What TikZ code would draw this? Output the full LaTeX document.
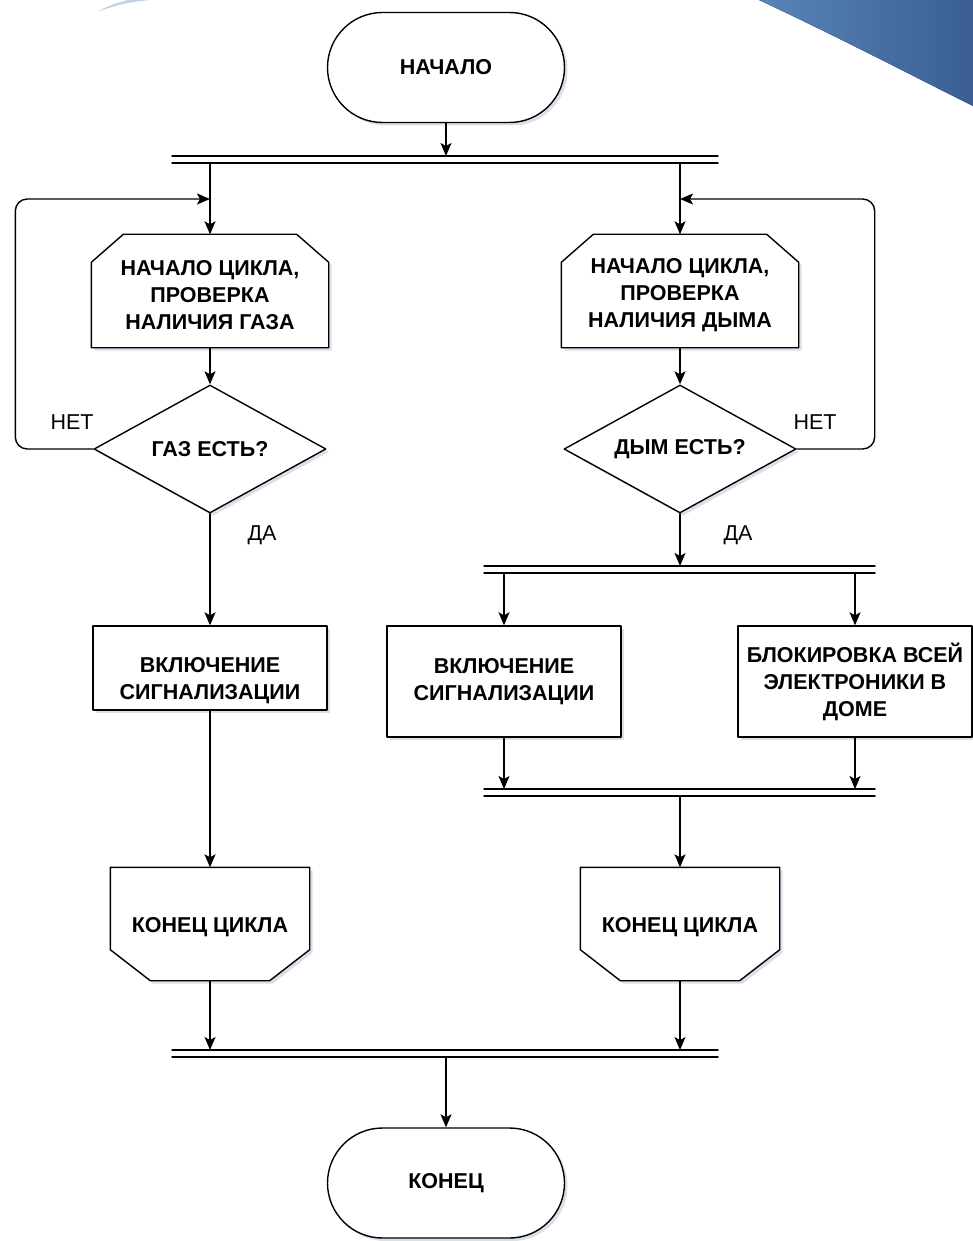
\documentclass[tikz,border=0pt]{standalone}
\usepackage{fontspec}
\setmainfont{Liberation Sans}
\usetikzlibrary{arrows.meta,shapes.geometric,shadows,backgrounds}
\definecolor{swoosh}{HTML}{5985BA}
\definecolor{swooshdark}{HTML}{3A5E93}
\definecolor{swooshlight}{HTML}{C3D3E5}
\definecolor{shade}{HTML}{D9E0EA}

\begin{document}
\begin{tikzpicture}[x=1pt,y=-1pt,line join=round,line cap=round,
    >={Stealth[length=13pt,width=11pt,inset=3pt]},line width=1.4pt]
    \tikzset{every node/.style={font=\fontsize{21.5}{27}\selectfont},
        shd/.style={drop shadow={shadow xshift=3pt,shadow yshift=-3pt,fill=shade,opacity=1}},
        txt/.style={align=center,inner sep=0pt,font=\bfseries\fontsize{21.5}{27}\selectfont},
        box/.style={txt,draw,fill=white,shd},
        term/.style={box,rounded corners=55pt,minimum width=237pt,minimum height=110pt},
        proc/.style={box,minimum width=234pt},
        cond/.style={box,diamond,aspect=1.8,minimum width=232pt,minimum height=128pt},
        loopbox/.style={txt,minimum width=236pt,minimum height=112pt},
        endbox/.style={loopbox,minimum width=198pt},
        outline/.style={draw,fill=white,line width=1.4pt,line join=round,shd}}
    \useasboundingbox (0,0) rectangle (973,1241);
    \fill[left color=swoosh,right color=swooshdark]
        (759,0) .. controls (840,38) and (905,72) .. (973,106) -- (973,0) -- cycle;
    \fill[swooshlight] (99,11) .. controls (110,5) .. (128,0) -- (150,0)
        .. controls (125,3) .. (99,11) -- cycle;

    \node[term] (start) at (446,67.5) {НАЧАЛО};
    \node[loopbox,label={[txt,name=cycAtext,yshift=-4pt]center:НАЧАЛО ЦИКЛА,\\ПРОВЕРКА\\НАЛИЧИЯ ГАЗА}] (cycA) at (210,291) {};
    \node[loopbox,label={[txt,name=cycBtext,yshift=-4pt]center:НАЧАЛО ЦИКЛА,\\ПРОВЕРКА\\НАЛИЧИЯ ДЫМА}] (cycB) at (680,291) {};
    \node[cond] (condA) at (210,449) {ГАЗ ЕСТЬ?};
    \node[cond] (condB) at (680,449) {ДЫМ ЕСТЬ?};
    \node (noA) at (72,422) {НЕТ};
    \node (noB) at (815,422) {НЕТ};
    \node (yesA) at (262,535) {ДА};
    \node (yesB) at (738,535) {ДА};
    \node[proc,minimum height=84pt,label={[txt,name=sigAtext,yshift=-13pt]center:ВКЛЮЧЕНИЕ\\СИГНАЛИЗАЦИИ}] (sigA) at (210,668) {};
    \node[proc,minimum height=111pt] (sigB) at (504,681.5) {ВКЛЮЧЕНИЕ\\СИГНАЛИЗАЦИИ};
    \node[proc,minimum height=111pt] (lock) at (855,681.5) {БЛОКИРОВКА ВСЕЙ\\ЭЛЕКТРОНИКИ В\\ДОМЕ};
    \node[endbox,label={[txt,name=endAtext,yshift=-3pt]center:КОНЕЦ ЦИКЛА}] (endA) at (210,924) {};
    \node[endbox,label={[txt,name=endBtext,yshift=-3pt]center:КОНЕЦ ЦИКЛА}] (endB) at (680,924) {};
    \node[term] (stop) at (446,1183) {КОНЕЦ};

    \begin{scope}[on background layer]
        \foreach \n in {cycA,cycB}
        \draw[outline] ([xshift=32pt]\n.north west) -- ([xshift=-32pt]\n.north east)
            -- ([yshift=-28pt]\n.north east) -- (\n.south east) -- (\n.south west)
            -- ([yshift=-28pt]\n.north west) -- cycle;
        \foreach \n in {endA,endB}
        \draw[outline] (\n.north west) -- (\n.north east) -- ([yshift=31pt]\n.south east)
            -- ([xshift=-40pt]\n.south east) -- ([xshift=40pt]\n.south west)
            -- ([yshift=31pt]\n.south west) -- cycle;
    \end{scope}

    % fork and join bars
    \coordinate (forkIn) at (446,156);
    \coordinate (forkA) at (210,163);
    \coordinate (forkB) at (680,163);
    \coordinate (splitIn) at (680,566);
    \coordinate (splitA) at (504,573);
    \coordinate (splitB) at (855,573);
    \coordinate (mergeA) at (504,789);
    \coordinate (mergeB) at (855,789);
    \coordinate (mergeOut) at (680,796);
    \coordinate (joinA) at (210,1050);
    \coordinate (joinB) at (680,1050);
    \coordinate (joinOut) at (446,1057);
    \foreach \y/\l/\r in {156/172/718,163/172/718,566/484/875,573/484/875,
        789/484/875,796/484/875,1050/172/718,1057/172/718}
    \draw (\l,\y) -- (\r,\y);

    \foreach \a/\b in {start.south/forkIn,forkA/cycA.north,forkB/cycB.north,
        cycA.south/condA.north,cycB.south/condB.north,condA.south/sigA.north,
        condB.south/splitIn,splitA/sigB.north,splitB/lock.north,
        sigB.south/mergeA,lock.south/mergeB,mergeOut/endB.north,
        sigA.south/endA.north,endA.south/joinA,endB.south/joinB,joinOut/stop.north}
    \draw[->] (\a) -- (\b);

    % loops back
    \coordinate (backA) at (210,199);
    \coordinate (backB) at (680,199);
    \draw[->,rounded corners=12pt] (condA.west) -- ++(-78,0) |- (backA);
    \draw[->,rounded corners=12pt] (condB.east) -- ++(78,0) |- (backB);
\end{tikzpicture}
\end{document}
